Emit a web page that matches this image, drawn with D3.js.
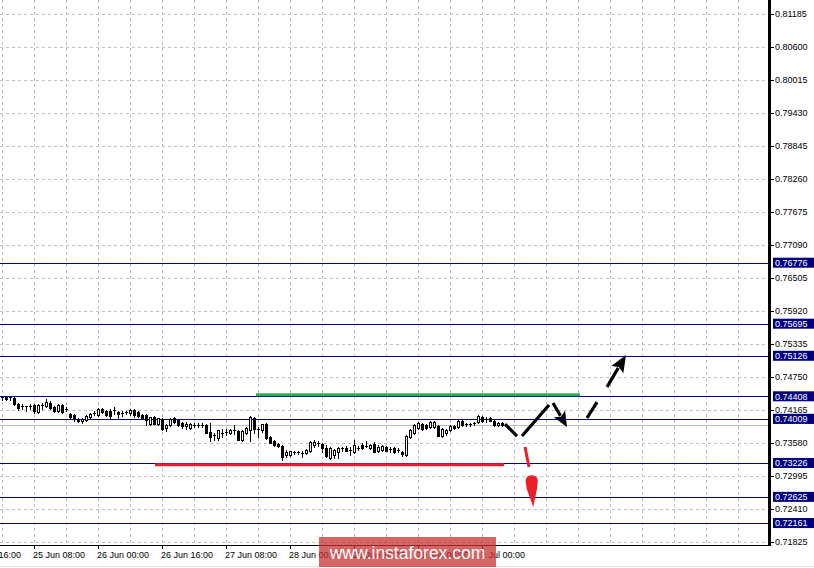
<!DOCTYPE html>
<html><head><meta charset="utf-8">
<script src="https://cdn.jsdelivr.net/npm/d3@7"></script>
<style>
html,body{margin:0;padding:0;background:#fff;overflow:hidden}
svg{display:block}
text{font-family:"Liberation Sans",Arial,sans-serif;font-size:9px}
</style></head><body>
<svg id="c" width="814" height="568"></svg>
<script>
// ---- candle data (H1 bars) ----
const opens=[.74395,.74395,.74395,.74378,.74271,.74236,.74236,.74236,.74253,.74129,.74253,.74236,.74289,.74218,.74147,.74253,.74182,.74094,.74076,.74005,.73969,.73987,.74040,.74094,.74076,.74182,.74147,.74147,.74147,.74129,.74111,.74111,.74111,.74165,.74129,.74076,.74076,.73916,.74040,.73916,.74005,.73845,.73899,.74023,.73987,.73934,.73881,.73845,.73899,.73899,.73899,.73899,.73774,.73721,.73668,.73757,.73774,.73757,.73810,.73792,.73633,.73757,.73810,.74023,.73828,.73810,.73916,.73686,.73615,.73562,.73526,.73367,.73367,.73420,.73420,.73402,.73402,.73438,.73544,.73579,.73562,.73491,.73314,.73367,.73420,.73491,.73491,.73455,.73420,.73491,.73544,.73526,.73491,.73562,.73438,.73455,.73509,.73473,.73491,.73455,.73420,.73367,.73686,.73757,.73845,.73916,.73899,.73863,.73863,.73881,.73704,.73757,.73810,.73881,.73863,.73969,.73916,.73916,.73934,.73952,.74040,.74005,.74023,.73969,.73899,.73934];
const highs=[.74413,.74413,.74413,.74395,.74289,.74271,.74240,.74271,.74271,.74271,.74289,.74360,.74324,.74236,.74271,.74271,.74218,.74111,.74094,.74023,.74023,.74076,.74111,.74147,.74200,.74200,.74165,.74182,.74218,.74147,.74147,.74147,.74182,.74182,.74147,.74094,.74094,.74040,.74058,.74023,.74023,.73916,.74023,.74040,.74005,.73952,.73952,.73934,.73934,.73934,.73934,.73916,.73934,.73757,.73810,.73828,.73828,.73828,.73899,.73810,.73810,.73863,.74058,.74040,.73863,.73916,.73934,.73704,.73633,.73579,.73544,.73455,.73438,.73438,.73438,.73438,.73473,.73615,.73633,.73615,.73579,.73544,.73509,.73473,.73509,.73509,.73526,.73509,.73633,.73526,.73579,.73615,.73562,.73597,.73544,.73544,.73526,.73509,.73509,.73491,.73438,.73721,.73828,.73916,.73952,.73934,.73916,.73969,.73969,.73899,.73845,.73828,.73899,.73899,.73987,.73987,.73934,.73934,.73952,.74076,.74058,.74040,.74040,.73987,.73952,.73952];
const lows=[.74342,.74342,.74342,.74253,.74165,.74182,.74147,.74182,.74111,.74111,.74182,.74218,.74182,.74129,.74129,.74111,.74147,.74023,.73969,.73952,.73934,.73969,.74023,.74076,.74058,.74111,.74058,.74005,.74094,.74005,.74058,.74094,.74076,.74040,.74040,.74005,.73899,.73899,.73916,.73899,.73810,.73792,.73881,.73934,.73881,.73845,.73828,.73828,.73863,.73863,.73863,.73757,.73615,.73633,.73633,.73686,.73721,.73739,.73739,.73633,.73615,.73739,.73615,.73757,.73686,.73774,.73650,.73579,.73526,.73509,.73278,.73331,.73349,.73385,.73385,.73331,.73385,.73420,.73509,.73526,.73420,.73331,.73296,.73314,.73314,.73438,.73438,.73367,.73402,.73455,.73473,.73509,.73473,.73420,.73420,.73438,.73438,.73420,.73402,.73420,.73349,.73349,.73668,.73739,.73828,.73810,.73828,.73845,.73845,.73704,.73686,.73721,.73792,.73828,.73845,.73881,.73881,.73881,.73899,.73934,.73952,.73952,.73969,.73881,.73881,.73881];
const closes=[.74378,.74360,.74378,.74271,.74200,.74230,.74232,.74240,.74147,.74253,.74250,.74306,.74200,.74147,.74253,.74129,.74178,.74040,.74005,.73969,.74005,.74058,.74094,.74111,.74182,.74129,.74076,.74058,.74165,.74094,.74105,.74125,.74165,.74076,.74058,.74023,.73987,.74040,.73916,.74023,.73828,.73899,.74005,.73952,.73899,.73881,.73916,.73916,.73895,.73905,.73890,.73757,.73686,.73716,.73810,.73750,.73770,.73810,.73800,.73633,.73792,.73845,.74040,.73828,.73820,.73916,.73668,.73579,.73544,.73526,.73331,.73420,.73438,.73415,.73425,.73400,.73455,.73597,.73597,.73575,.73491,.73349,.73491,.73455,.73491,.73485,.73438,.73450,.73544,.73485,.73491,.73520,.73544,.73420,.73509,.73526,.73438,.73470,.73420,.73450,.73385,.73704,.73810,.73899,.73934,.73828,.73845,.73952,.73945,.73704,.73828,.73810,.73881,.73845,.73969,.73899,.73910,.73920,.73930,.74058,.73969,.74000,.73969,.73899,.73934,.73895];

// ---- axes ----
const priceTicks=["0.81185","0.80600","0.80015","0.79430","0.78845","0.78260","0.77675","0.77090","0.76505","0.75920","0.75335","0.74750","0.74165","0.73580","0.72995","0.72410","0.71825"];
const timeTickIndex=[-8,8,24,40,56,72,88,104,120];
const timeTickLabels=["24 Jun 16:00","25 Jun 08:00","26 Jun 00:00","26 Jun 16:00","27 Jun 08:00","28 Jun 00:00","28 Jun 16:00","29 Jun 08:00","2 Jul 00:00"];
const gridIndex=d3.range(0,185,8);

// ---- levels ----
const levelValues=[0.76776,0.75695,0.75126,0.74408,0.74009,0.73226,0.72625,0.72161];
const bidPrice=0.73895;
const resistanceSpan=[63.5,144.5], resistancePrice=0.74408;
const supportSpan=[38.25,125.5], supportPrice=0.73226;

// ---- forecast path pieces: [index, price] ----
const blackLines=[
  [[125.75,0.73916],[128.75,0.73704]],
  [[130,0.73704],[136.75,0.74253]],
  [[146.25,0.74023],[148.75,0.74306]]
];
const blackArrows=[
  [[137.75,0.74289],[141.25,0.73863]],
  [[151.25,0.74573],[156,0.75140]]
];
const redLine=[[130.75,0.73509],[131.75,0.73154]];
const redArrow=[[132.4,0.73010],[132.83,0.72445]];

const W=814,H=568,plotR=770,plotB=545;
const svg=d3.select("#c");
const x=d3.scaleLinear().domain([0,192]).range([2,770]);
const y=d3.scaleLinear().domain([0.71772,0.81433]).range([plotB,0]);
const ry=v=>Math.round(y(v));

svg.append("rect").attr("width",W).attr("height",H).attr("fill","#fff");

const g=svg.append("g").attr("shape-rendering","crispEdges");
// grid
g.selectAll(".hg").data(priceTicks).join("line")
  .attr("x1",0).attr("x2",plotR).attr("y1",d=>ry(+d)+0.5).attr("y2",d=>ry(+d)+0.5)
  .attr("stroke","#c0c0c0").attr("stroke-dasharray","3,3");
g.selectAll(".vg").data(gridIndex).join("line")
  .attr("x1",d=>Math.round(x(d))+0.5).attr("x2",d=>Math.round(x(d))+0.5)
  .attr("y1",0).attr("y2",plotB)
  .attr("stroke","#c0c0c0").attr("stroke-dasharray","3,3");
// bid line
g.append("line").attr("x1",0).attr("x2",plotR).attr("y1",ry(bidPrice)+0.5).attr("y2",ry(bidPrice)+0.5)
  .attr("stroke","#c0c0c0");
// level lines
g.selectAll(".lv").data(levelValues).join("line")
  .attr("x1",0).attr("x2",plotR).attr("y1",d=>ry(d)+0.5).attr("y2",d=>ry(d)+0.5)
  .attr("stroke","#000080");

// candles
const idx=d3.range(opens.length);
const cg=g.append("g");
idx.forEach(i=>{
  const cx=Math.round(x(i));
  const yh=ry(highs[i]), yl=ry(lows[i]);
  cg.append("rect").attr("x",cx).attr("y",yh).attr("width",1).attr("height",Math.max(1,yl-yh+1)).attr("fill","#000");
  const top=ry(Math.max(opens[i],closes[i])), bot=ry(Math.min(opens[i],closes[i]));
  const bull=closes[i]>opens[i];
  if(bot-top<2){
    cg.append("rect").attr("x",cx-1).attr("y",top).attr("width",3).attr("height",Math.max(1,bot-top)).attr("fill","#000");
  } else if(bull){
    cg.append("rect").attr("x",cx-1+0.5).attr("y",top+0.5).attr("width",2).attr("height",bot-top).attr("fill","#fff").attr("stroke","#000");
  } else {
    cg.append("rect").attr("x",cx-1).attr("y",top).attr("width",3).attr("height",bot-top+1).attr("fill","#000");
  }
});

// support / resistance
svg.append("line").attr("x1",x(resistanceSpan[0])).attr("x2",x(resistanceSpan[1]))
  .attr("y1",y(resistancePrice)-1.6).attr("y2",y(resistancePrice)-1.6)
  .attr("stroke","#30ad5c").attr("stroke-width",3);
svg.append("line").attr("x1",x(supportSpan[0])).attr("x2",x(supportSpan[1]))
  .attr("y1",y(supportPrice)+1.7).attr("y2",y(supportPrice)+1.7)
  .attr("stroke","#ec1f28").attr("stroke-width",3);

// forecast
const P=p=>[x(p[0]),y(p[1])];
blackLines.forEach(s=>{
  const a=P(s[0]),b=P(s[1]);
  svg.append("line").attr("x1",a[0]).attr("y1",a[1]).attr("x2",b[0]).attr("y2",b[1])
    .attr("stroke","#000").attr("stroke-width",3.2);
});
function arrow(s,color,hl,hw,sw){
  const a=P(s[0]),b=P(s[1]);
  const dx=b[0]-a[0],dy=b[1]-a[1],L=Math.hypot(dx,dy),ux=dx/L,uy=dy/L,px=-uy,py=ux;
  const bx=b[0]-ux*hl,by=b[1]-uy*hl;
  svg.append("line").attr("x1",a[0]).attr("y1",a[1]).attr("x2",bx+ux*2).attr("y2",by+uy*2)
    .attr("stroke",color).attr("stroke-width",sw);
  svg.append("path").attr("d",`M${b[0]},${b[1]}L${bx+px*hw/2},${by+py*hw/2}L${bx+ux*3},${by+uy*3}L${bx-px*hw/2},${by-py*hw/2}Z`)
    .attr("fill",color);
}
arrow(blackArrows[0],"#000",15,13,3.2);
arrow(blackArrows[1],"#000",17,14,3.2);
{
  const a=P(redLine[0]),b=P(redLine[1]);
  svg.append("line").attr("x1",a[0]).attr("y1",a[1]).attr("x2",b[0]).attr("y2",b[1])
    .attr("stroke","#ec1f28").attr("stroke-width",3);
  const t=P(redArrow[0]),tip=P(redArrow[1]);
  const cx=t[0],ty=t[1];
  svg.append("path").attr("d",
    `M${cx-6},${ty+6}Q${cx-6},${ty} ${cx},${ty}Q${cx+6.3},${ty} ${cx+6.2},${ty+6}L${cx+5.3},${ty+14}L${tip[0]},${tip[1]}L${cx-4.8},${ty+14}Z`)
    .attr("fill","#ec1f28");
}

// axes frame
const ax=svg.append("g").attr("shape-rendering","crispEdges");
ax.append("rect").attr("x",768).attr("y",0).attr("width",3).attr("height",plotB+1).attr("fill","#000");
ax.append("rect").attr("x",0).attr("y",plotB).attr("width",771).attr("height",1).attr("fill","#000");
ax.selectAll(".rt").data(priceTicks).join("rect")
  .attr("x",771).attr("y",d=>ry(+d)).attr("width",3).attr("height",1).attr("fill","#000");
ax.selectAll(".bt").data(timeTickIndex).join("rect")
  .attr("x",d=>Math.round(x(d))).attr("y",plotB).attr("width",1).attr("height",4).attr("fill","#000");
svg.append("line").attr("x1",0).attr("x2",W).attr("y1",566.5).attr("y2",566.5).attr("stroke","#e4e4e4");

// right labels
svg.selectAll(".rl").data(priceTicks).join("text")
  .attr("x",775).attr("y",d=>y(+d)+3.3).text(d=>d).attr("fill","#000");
// bid label (partly covered)
const bidY=y(bidPrice);
svg.append("clipPath").attr("id","bidclip").append("rect").attr("x",773).attr("y",bidY-5).attr("width",41).attr("height",3.5);
svg.append("rect").attr("x",773).attr("y",bidY-5).attr("width",41).attr("height",3.5).attr("fill","#000");
svg.append("text").attr("x",775).attr("y",bidY+1.5).text(bidPrice.toFixed(5)).attr("fill","#fff").attr("clip-path","url(#bidclip)");
const lvG=svg.selectAll(".lvl").data(levelValues).join("g");
lvG.append("rect").attr("x",773).attr("y",d=>y(d)-5).attr("width",41).attr("height",10).attr("fill","#000080");
lvG.append("text").attr("x",775).attr("y",d=>y(d)+3.3).text(d=>d.toFixed(5)).attr("fill","#fff");

// bottom labels
svg.selectAll(".bl").data(timeTickIndex).join("text")
  .attr("x",d=>Math.round(x(d))-1).attr("y",557.5).text((d,i)=>timeTickLabels[i]).attr("fill","#000");

// watermark
svg.append("rect").attr("x",319).attr("y",537).attr("width",177).attr("height",30).attr("fill","#c83232").attr("opacity",0.75);
svg.append("text").attr("x",407.5).attr("y",559).attr("text-anchor","middle")
  .style("font-family","'Liberation Sans',Arial,sans-serif").style("font-size","17.5px").attr("fill","#fff").text("www.instaforex.com");
</script>
</body></html>
